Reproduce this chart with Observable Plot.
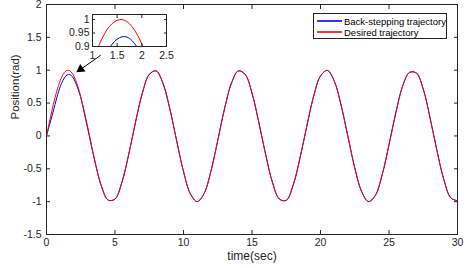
<!DOCTYPE html>
<html><head><meta charset="utf-8">
<script src="https://cdn.jsdelivr.net/npm/d3@7"></script>
<script src="https://cdn.jsdelivr.net/npm/@observablehq/plot@0.6"></script>
<style>
body{margin:0;background:#fff;}
#wrap{position:relative;width:468px;height:268px;font-family:"Liberation Sans",Arial,sans-serif;}
#inset{position:absolute;left:62px;top:13px;}
#legend{position:absolute;left:313px;top:13px;width:132px;height:24px;border:1px solid #262626;background:#fff;font-size:9.5px;color:#000;}
.row{position:absolute;left:30px;height:11px;line-height:11px;white-space:nowrap;}
.sw{position:absolute;left:3px;width:25px;height:2px;opacity:0.8;}
</style></head>
<body><div id="wrap"></div>
<script>
const time = [0,0.25,0.5,0.75,1,1.1,1.2,1.3,1.4,1.5,1.6,1.7,1.8,1.9,2,2.1,2.2,2.3,2.4,2.5,3,3.5,4,4.5,5,5.5,6,6.5,7,7.5,8,8.5,9,9.5,10,10.5,11,11.5,12,12.5,13,13.5,14,14.5,15,15.5,16,16.5,17,17.5,18,18.5,19,19.5,20,20.5,21,21.5,22,22.5,23,23.5,24,24.5,25,25.5,26,26.5,27,27.5,28,28.5,29,29.5,30];
const desired = [0,0.247,0.479,0.682,0.841,0.891,0.932,0.964,0.985,0.997,0.9996,0.992,0.974,0.946,0.909,0.863,0.808,0.746,0.675,0.598,0.141,-0.351,-0.757,-0.978,-0.959,-0.706,-0.279,0.215,0.657,0.938,0.989,0.799,0.412,-0.075,-0.544,-0.880,-1.000,-0.876,-0.537,-0.066,0.420,0.804,0.991,0.935,0.650,0.202,-0.288,-0.712,-0.961,-0.980,-0.751,-0.338,0.150,0.606,0.913,0.997,0.837,0.468,-0.009,-0.487,-0.846,-0.999,-0.906,-0.591,-0.132,0.355,0.763,0.968,0.956,0.712,0.271,-0.226,-0.664,-0.940,-0.988];
const backstepping = [0,0.19,0.38,0.58,0.75,0.80,0.845,0.882,0.909,0.927,0.936,0.935,0.922,0.899,0.866,0.824,0.774,0.716,0.652,0.582,0.12,-0.36,-0.76,-0.975,-0.962,-0.712,-0.285,0.21,0.652,0.935,0.99,0.802,0.416,-0.07,-0.54,-0.878,-0.999,-0.878,-0.54,-0.07,0.417,0.802,0.99,0.937,0.653,0.205,-0.285,-0.71,-0.96,-0.981,-0.753,-0.341,0.147,0.603,0.912,0.997,0.839,0.471,-0.006,-0.484,-0.844,-0.999,-0.907,-0.594,-0.135,0.352,0.761,0.967,0.957,0.714,0.274,-0.223,-0.661,-0.939,-0.989];
const xTicks = [0,5,10,15,20,25,30];
const yTicks = [-1.5,-1,-0.5,0,0.5,1,1.5,2];
const insetXTicks = [1,1.5,2,2.5];
const insetYTicks = [0.9,0.95,1];
const seriesNames = ["Back-stepping trajectory","Desired trajectory"];
const seriesColors = ["#0000ff","#ff0000"];
const arrowFrom = [3.96,1.228];
const arrowTo = [2.19,0.97];

const data = time.map((t,i)=>({t, d: desired[i], b: backstepping[i]}));
const insetData = data.filter(p => p.t >= 0.75 && p.t <= 3);
const ink = "#262626";
const fmt = d => String(d);
// arrow head: filled triangle near the tip, pointing from tail to tip
const headBack = 0.17;
const headPos = [arrowTo[0] + headBack*(arrowFrom[0]-arrowTo[0]), arrowTo[1] + headBack*(arrowFrom[1]-arrowTo[1])];

const main = Plot.plot({
  width: 468, height: 268,
  marginLeft: 46, marginRight: 11, marginTop: 4, marginBottom: 34,
  style: {fontFamily: "'Liberation Sans', Arial, sans-serif", fontSize: "10.5px", color: ink, background: "transparent"},
  x: {domain: [0,30]},
  y: {domain: [-1.5,2]},
  marks: [
    Plot.frame({stroke: ink}),
    Plot.axisX(xTicks, {anchor: "bottom", tickSize: -4, tickPadding: 8, tickFormat: fmt, label: null, stroke: ink, fontSize: 10.5}),
    Plot.axisX(xTicks, {anchor: "top", tickSize: -4, tickFormat: () => "", label: null, stroke: ink}),
    Plot.axisY(yTicks, {anchor: "left", tickSize: -4, tickPadding: 9, tickFormat: fmt, label: null, stroke: ink, fontSize: 10.5}),
    Plot.axisY(yTicks, {anchor: "right", tickSize: -4, tickFormat: () => "", label: null, stroke: ink}),
    Plot.line(data, {x: "t", y: "b", stroke: seriesColors[0], strokeWidth: 1, curve: "catmull-rom"}),
    Plot.line(data, {x: "t", y: "d", stroke: seriesColors[1], strokeWidth: 1, curve: "catmull-rom"}),
    Plot.link([0], {x1: () => arrowFrom[0], y1: () => arrowFrom[1], x2: () => headPos[0], y2: () => headPos[1], stroke: "#000", strokeWidth: 1}),
    Plot.dot([0], {x: () => headPos[0], y: () => headPos[1], symbol: "triangle", r: 3.4, fill: "#000", stroke: "none", rotate: -125}),
    Plot.text(["time(sec)"], {frameAnchor: "bottom", dy: 25, fontSize: 12, fill: ink}),
    Plot.text(["Position(rad)"], {frameAnchor: "left", dx: -31, rotate: -90, fontSize: 11.5, fill: ink})
  ]
});

const inset = Plot.plot({
  width: 112, height: 49,
  marginLeft: 30, marginRight: 8, marginTop: 1, marginBottom: 16,
  style: {fontFamily: "'Liberation Sans', Arial, sans-serif", fontSize: "10.5px", color: ink, background: "transparent", overflow: "hidden"},
  x: {domain: [1,2.5]},
  y: {domain: [0.9,1.0185]},
  marks: [
    Plot.frame({fill: "#fff"}),
    Plot.line(insetData, {x: "t", y: "b", stroke: seriesColors[0], strokeWidth: 1, curve: "catmull-rom", clip: true}),
    Plot.line(insetData, {x: "t", y: "d", stroke: seriesColors[1], strokeWidth: 1, curve: "catmull-rom", clip: true}),
    Plot.frame({stroke: ink}),
    Plot.axisX(insetXTicks, {anchor: "bottom", tickSize: -3, tickPadding: 8, tickFormat: fmt, label: null, stroke: ink, fontSize: 10.5}),
    Plot.axisX(insetXTicks, {anchor: "top", tickSize: -3, tickFormat: () => "", label: null, stroke: ink}),
    Plot.axisY(insetYTicks, {anchor: "left", tickSize: -3, tickPadding: 6, tickFormat: fmt, label: null, stroke: ink, fontSize: 10.5}),
    Plot.axisY(insetYTicks, {anchor: "right", tickSize: -3, tickFormat: () => "", label: null, stroke: ink})
  ]
});

const wrap = document.getElementById("wrap");
wrap.appendChild(main);
inset.id = "inset";
wrap.appendChild(inset);
const legend = document.createElement("div");
legend.id = "legend";
seriesNames.forEach((name,i) => {
  const sw = document.createElement("div");
  sw.className = "sw";
  sw.style.top = (6 + i*11) + "px";
  sw.style.background = seriesColors[i];
  legend.appendChild(sw);
  const row = document.createElement("div");
  row.className = "row";
  row.style.top = (2 + i*11) + "px";
  row.textContent = name;
  legend.appendChild(row);
});
wrap.appendChild(legend);
</script></body></html>
